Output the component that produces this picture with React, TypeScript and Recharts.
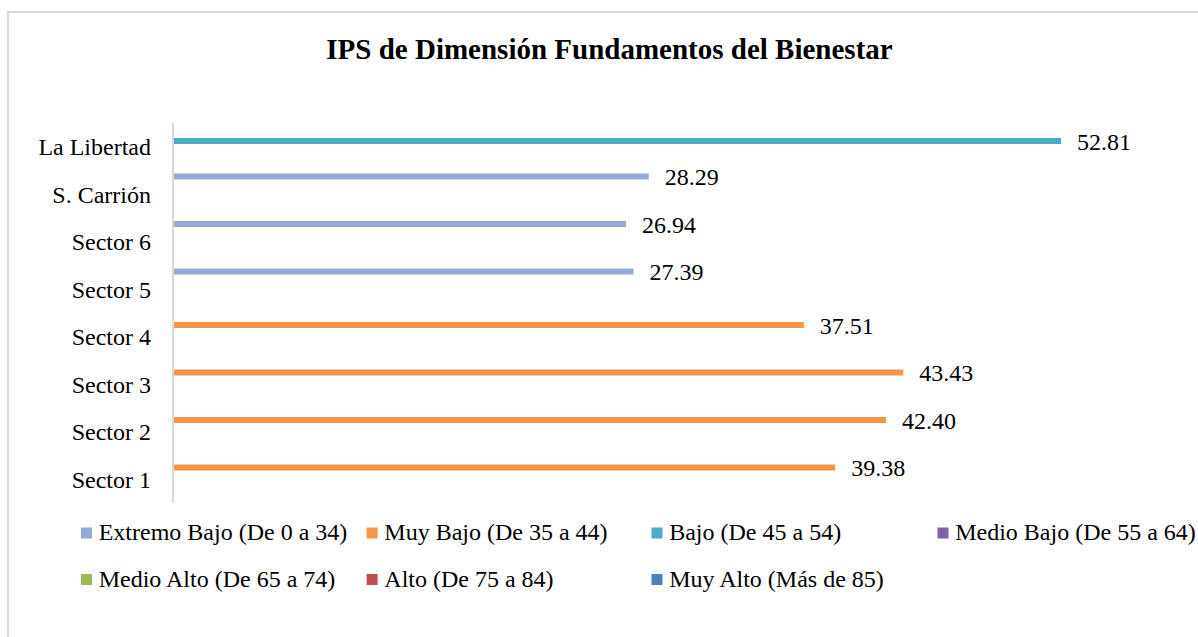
import React from 'react';
import { BarChart, Bar, XAxis, YAxis, LabelList, Legend } from 'recharts';

const categories = ['La Libertad', 'S. Carrión', 'Sector 6', 'Sector 5', 'Sector 4', 'Sector 3', 'Sector 2', 'Sector 1'];

const extremoBajo = [null, 28.29, 26.94, 27.39, null, null, null, null];
const muyBajo = [null, null, null, null, 37.51, 43.43, 42.40, 39.38];
const bajo = [52.81, null, null, null, null, null, null, null];
const medioBajo = [null, null, null, null, null, null, null, null];
const medioAlto = [null, null, null, null, null, null, null, null];
const alto = [null, null, null, null, null, null, null, null];
const muyAlto = [null, null, null, null, null, null, null, null];

const seriesNames = [
  'Extremo Bajo (De 0 a 34)',
  'Muy Bajo (De 35 a 44)',
  'Bajo (De 45 a 54)',
  'Medio Bajo (De 55 a 64)',
  'Medio Alto (De 65 a 74)',
  'Alto (De 75 a 84)',
  'Muy Alto (Más de 85)',
];
const seriesColors = ['#95A9D4', '#F79646', '#4BACC6', '#8064A2', '#9BBB59', '#C0504D', '#4F81BD'];
const seriesValues = [extremoBajo, muyBajo, bajo, medioBajo, medioAlto, alto, muyAlto];

const title = 'IPS de Dimensión Fundamentos del Bienestar';

const data = categories.map((name, i) => {
  const row: Record<string, any> = { name };
  seriesValues.forEach((vals, s) => {
    row['s' + s] = vals[i];
  });
  return row;
});

const FONT = '"Liberation Serif", "Times New Roman", serif';

const fmt = (v: any) => (v == null || v === '' ? '' : Number(v).toFixed(2));

const colX = [81, 366.6, 651.5, 937.5];
const rowMarkerTop = [527.5, 574];

const LegendContent = (props: any) => {
  const payload = props.payload && props.payload.length ? props.payload : seriesNames.map((n, i) => ({ value: n, color: seriesColors[i] }));
  return (
    <svg width={1198} height={637} style={{ position: 'absolute', left: 0, top: 0, overflow: 'visible' }}>
      {payload.map((p: any, i: number) => {
        const col = i % 4;
        const row = Math.floor(i / 4);
        const x = colX[col];
        const y = rowMarkerTop[row];
        return (
          <g key={i}>
            <rect x={x} y={y} width={11} height={11} fill={seriesColors[i]} />
            <text x={x + 17.7} y={y + 12.8} fontFamily={FONT} fontSize={24} fill="#000">
              {seriesNames[i]}
            </text>
          </g>
        );
      })}
    </svg>
  );
};

export default function App() {
  return (
    <div style={{ position: 'absolute', left: 0, top: 0, width: 1198, height: 637, overflow: 'hidden', background: '#fff' }}>
      <div
        style={{
          position: 'absolute',
          left: 7,
          top: 11,
          width: 1300,
          height: 700,
          border: '2px solid #d9d9d9',
          boxSizing: 'border-box',
        }}
      />
      <svg width={1198} height={100} style={{ position: 'absolute', left: 0, top: 0 }}>
        <text x={609.5} y={59.3} textAnchor="middle" fontFamily={FONT} fontWeight="bold" fontSize={29} fill="#000">
          {title}
        </text>
      </svg>
      <div style={{ position: 'absolute', left: 0, top: 0 }}>
        <BarChart
          width={1198}
          height={637}
          data={data}
          layout="vertical"
          margin={{ top: 123, right: 16, bottom: 134, left: 0 }}
          barGap={0}
          barSize={6}
        >
          <XAxis type="number" domain={[0, 60]} hide />
          <YAxis
            type="category"
            dataKey="name"
            width={173}
            axisLine={{ stroke: '#d9d9d9', strokeWidth: 2 }}
            tickLine={false}
            tickSize={0}
            tickMargin={22}
            interval={0}
            tick={{ fontFamily: FONT, fontSize: 24, fill: '#000' }}
          />
          <Legend
            layout="horizontal"
            verticalAlign="middle"
            align="center"
            wrapperStyle={{ left: 0, top: 0, width: 1198, height: 637, pointerEvents: 'none' }}
            content={LegendContent}
          />
          {seriesNames.map((n, s) => (
            <Bar key={s} dataKey={'s' + s} name={n} fill={seriesColors[s]} isAnimationActive={false}>
              <LabelList
                dataKey={'s' + s}
                position="right"
                offset={16}
                formatter={fmt}
                style={{ fontFamily: FONT, fontSize: 24, fill: '#000' }}
              />
            </Bar>
          ))}
        </BarChart>
      </div>
    </div>
  );
}
